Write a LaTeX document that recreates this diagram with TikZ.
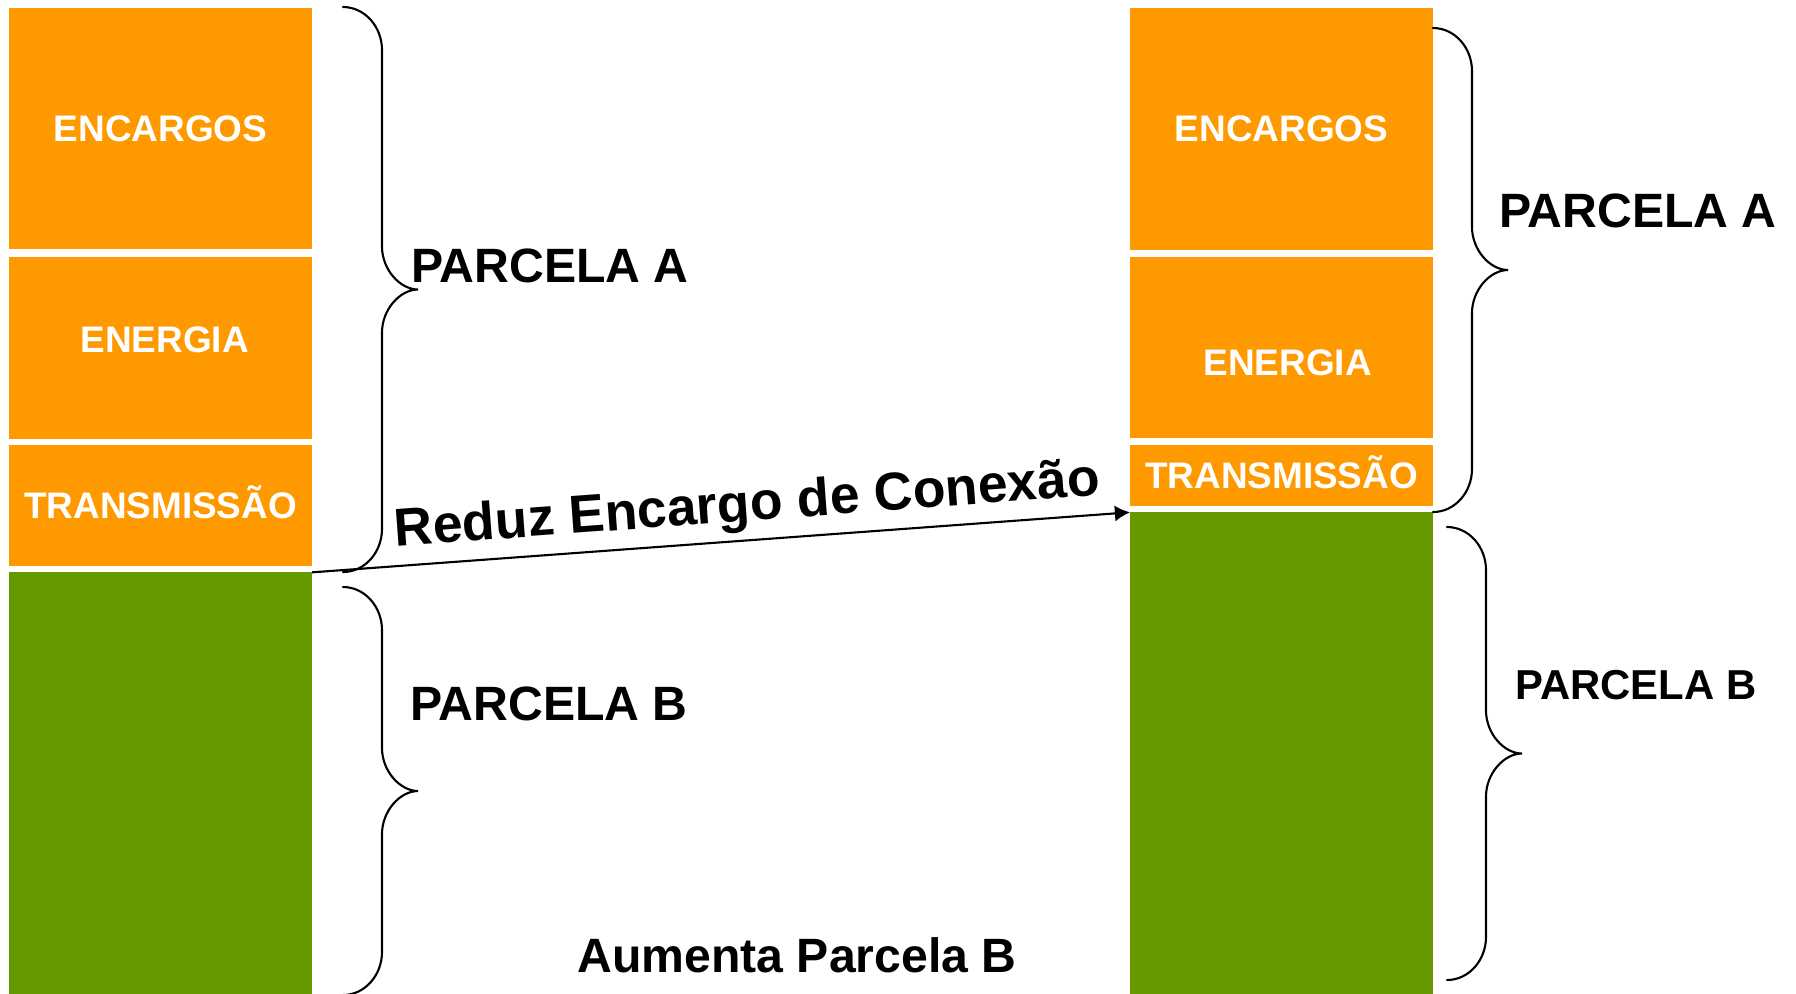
\documentclass[tikz,border=0pt]{standalone}
\usepackage{fontspec}
\setmainfont{Liberation Sans}
\usepackage{xcolor}
\usetikzlibrary{arrows.meta,positioning,calc}

\definecolor{parcA}{RGB}{255,153,0}
\definecolor{parcB}{RGB}{102,153,0}

\tikzset{
  blockA/.style={rectangle, fill=parcA, text=white, inner sep=0pt, outer sep=0pt, minimum width=3.03cm,
    font=\bfseries\fontsize{10.5}{12}\selectfont, text height=1.38ex, text depth=0pt},
  blocklabel/.style={text=white, inner sep=0pt,
    font=\bfseries\fontsize{10.5}{12}\selectfont, text height=1.38ex, text depth=0pt},
  blockB/.style={rectangle, fill=parcB, inner sep=0pt, outer sep=0pt, minimum width=3.03cm},
  bigtext/.style={font=\bfseries\fontsize{13.7}{16}\selectfont, anchor=base, inner sep=0pt},
  braceline/.style={line width=0.6pt, line cap=round},
}

% curly brace: x, top, bottom (in pixels)
\newcommand{\chave}[3]{%
  \draw[braceline] (#1,#2) .. controls ({#1+22},#2) and ({#1+39},{#2+20}) .. ({#1+39},{#2+43})
    -- ({#1+39},{(#2+#3)/2-43}) .. controls ({#1+39},{(#2+#3)/2-20}) and ({#1+57},{(#2+#3)/2}) .. ({#1+75},{(#2+#3)/2})
    .. controls ({#1+57},{(#2+#3)/2}) and ({#1+39},{(#2+#3)/2+20}) .. ({#1+39},{(#2+#3)/2+43})
    -- ({#1+39},{#3-43}) .. controls ({#1+39},{#3-20}) and ({#1+22},#3) .. (#1,#3);}

\begin{document}
\begin{tikzpicture}[x=0.01cm, y=-0.01cm]
    \useasboundingbox (0,0) rectangle (1796,993);

    % left column
    \node[blockA, minimum height=2.41cm, anchor=north west] (encL) at (9,8) {ENCARGOS};
    \node[blockA, minimum height=1.82cm, below=0.08cm of encL] (enL) {};
    \node[blockA, minimum height=1.21cm, below=0.06cm of enL] (trL) {TRANSMISSÃO};
    \node[blockB, minimum height=4.3cm, below=0.06cm of trL] (grL) {};
    \node[blocklabel] (enLtxt) at ($(enL.center)+(4,-9)$) {ENERGIA};

    % right column
    \node[blockA, minimum height=2.42cm, anchor=north west] (encR) at (1130,8) {ENCARGOS};
    \node[blockA, minimum height=1.81cm, below=0.07cm of encR] (enR) {};
    \node[blockA, minimum height=0.61cm, below=0.07cm of enR] (trR) {TRANSMISSÃO};
    \node[blockB, minimum height=4.9cm, below=0.06cm of trR] (grR) {};
    \node[blocklabel] (enRtxt) at ($(enR.center)+(6,15)$) {ENERGIA};

    % braces
    \chave{343}{7}{572}
    \chave{343}{587}{995}
    \chave{1433}{28}{512}
    \chave{1447}{527}{980}

    \node[bigtext] (parcAL) at (550,282) {PARCELA A};
    \node[bigtext] (parcBL) at (549,720) {PARCELA B};
    \node[bigtext] (parcAR) at (1638,227) {PARCELA A};
    \node[bigtext, font=\bfseries\fontsize{11.9}{14}\selectfont] (parcBR) at (1636,699) {PARCELA B};
    \node[bigtext] (aumenta) at (797,972) {Aumenta Parcela B};

    \draw[-{Latex[length=4.3pt,width=4.6pt]}, line width=0.6pt] (grL.north east)
        -- node[sloped, above, pos=0.535, inner sep=2pt, font=\bfseries\fontsize{15.2}{18}\selectfont] (reduz) {Reduz Encargo de Conexão} (grR.north west);
\end{tikzpicture}
\end{document}
